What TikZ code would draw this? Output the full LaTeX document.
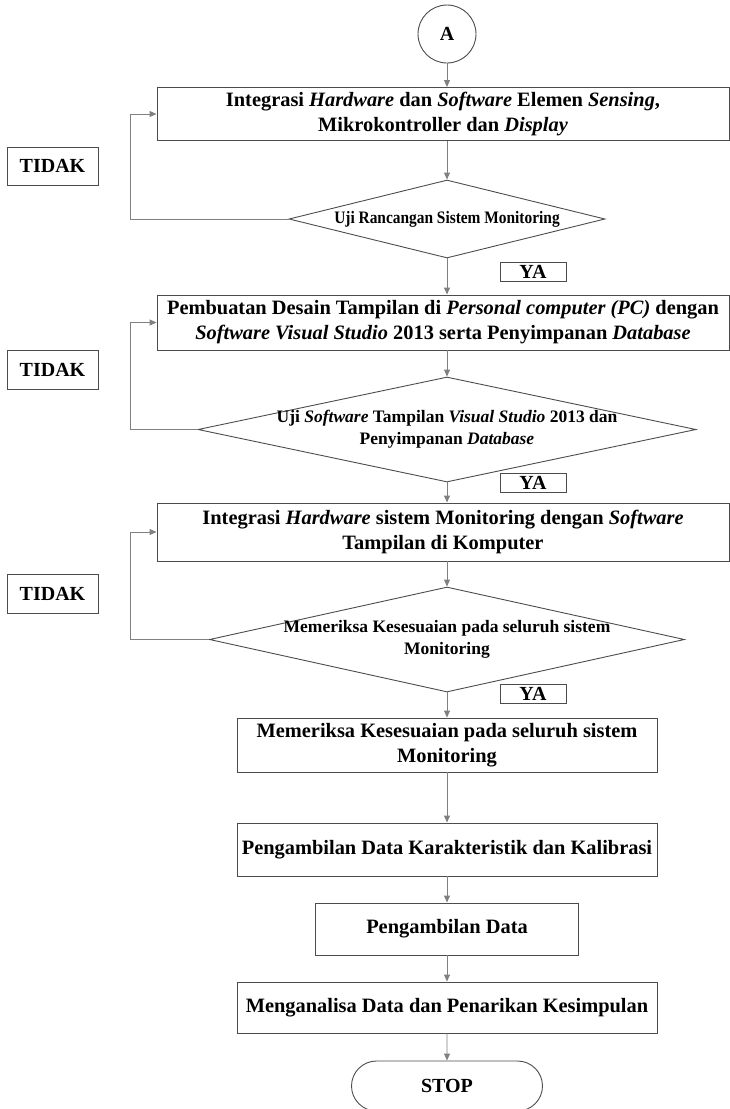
\documentclass[tikz,border=0pt]{standalone}
\usepackage{fontspec}
\setmainfont{Liberation Serif}
\usepackage{tikz}
\usetikzlibrary{shapes.geometric}
\usetikzlibrary{shapes.misc}
\usetikzlibrary{arrows.meta}
\newcommand \boxfont {\fontsize{20.4}{25}\selectfont\bfseries}
\newcommand \ujifont {\fontsize{17.5}{22}\selectfont\bfseries}
\newcommand \tagfont {\fontsize{20}{22}\selectfont\bfseries}
\tikzstyle{process}=[rectangle,draw=black!70,inner sep=0mm,align=center,font=\boxfont]
\tikzstyle{decision}=[diamond,draw=black!70,inner sep=0mm]
\tikzstyle{ujitext}=[inner sep=0mm,align=center,font=\ujifont]
\tikzstyle{tag}=[rectangle,draw=black!70,inner sep=0mm,font=\tagfont]
\tikzstyle{arrow}=[->,>={Triangle[length=7pt,width=6pt]},draw=black!50]
\tikzset{every picture/.style={
    line width=0.9pt
  }
}

\begin{document}
\begin{tikzpicture}[x=1pt,y=-1pt]
    \useasboundingbox (0,0) rectangle (730,1109);
    \node[circle,draw=black!70,minimum size=58pt,inner sep=0mm,font=\tagfont] at (447,34) (A) {A};
    \node[process,minimum width=572pt,minimum height=53pt] at (443,114) (integrasi1)
      {Integrasi \textit{Hardware} dan \textit{Software} Elemen \textit{Sensing},\\ Mikrokontroller dan \textit{Display}};
    \node[decision,minimum width=316pt,minimum height=78pt] at (447,219) (uji1) {};
    \node[ujitext] at (uji1) (uji1text) {\addfontfeature{FakeStretch=0.88}Uji Rancangan Sistem Monitoring};
    \node[tag,minimum width=91pt,minimum height=38pt] at (52.5,166) (tidak1) {TIDAK};
    \node[tag,minimum width=66pt,minimum height=19pt] at (533,272) (ya1) {YA};
    \draw[arrow] (A) -- (A |- integrasi1.north);
    \draw[arrow] (A |- integrasi1.south) -- (uji1);
    \draw[arrow] (uji1.west) -| ([xshift=-26pt]integrasi1.west) -- (integrasi1.west);

    \node[process,minimum width=572pt,minimum height=55pt] at (443,322.5) (desain)
      {Pembuatan Desain Tampilan di \textit{Personal computer (PC)} dengan\\ \textit{Software Visual Studio} 2013 serta Penyimpanan \textit{Database}};
    \node[decision,minimum width=498pt,minimum height=105pt] at (447,429.5) (uji2) {};
    \node[ujitext] at (uji2) (uji2text) {Uji \textit{Software} Tampilan \textit{Visual Studio} 2013 dan\\ Penyimpanan \textit{Database}};
    \node[tag,minimum width=91pt,minimum height=39pt] at (52.5,369.5) (tidak2) {TIDAK};
    \node[tag,minimum width=66pt,minimum height=19pt] at (533,482.5) (ya2) {YA};
    \draw[arrow] (uji1.south) -- (uji1.south |- desain.north);
    \draw[arrow] (uji1.south |- desain.south) -- (uji2);
    \draw[arrow] (uji2.west) -| ([xshift=-26pt]desain.west) -- (desain.west);

    \node[process,minimum width=572pt,minimum height=58pt] at (443,532) (integrasi2)
      {Integrasi \textit{Hardware} sistem Monitoring dengan \textit{Software}\\ Tampilan di Komputer};
    \node[decision,minimum width=475pt,minimum height=105pt] at (447,639.5) (periksa1) {};
    \node[ujitext] at (periksa1) (periksa1text) {Memeriksa Kesesuaian pada seluruh sistem\\ Monitoring};
    \node[tag,minimum width=91pt,minimum height=39pt] at (52.5,593.5) (tidak3) {TIDAK};
    \node[tag,minimum width=66pt,minimum height=19pt] at (533,693.5) (ya3) {YA};
    \draw[arrow] (uji2.south) -- (uji2.south |- integrasi2.north);
    \draw[arrow] (uji2.south |- integrasi2.south) -- (periksa1);
    \draw[arrow] (periksa1.west) -| ([xshift=-26pt]integrasi2.west) -- (integrasi2.west);

    \node[process,minimum width=420pt,minimum height=54pt] at (447,745) (periksa2)
      {Memeriksa Kesesuaian pada seluruh sistem\\ Monitoring};
    \node[process,minimum width=420pt,minimum height=53pt] at (447,849.5) (karakteristik)
      {Pengambilan Data Karakteristik dan Kalibrasi};
    \node[process,minimum width=263pt,minimum height=52pt] at (447,929) (ambil) {Pengambilan Data};
    \node[process,minimum width=420pt,minimum height=51pt] at (447,1007.5) (analisa)
      {Menganalisa Data dan Penarikan Kesimpulan};
    \node[rounded rectangle,draw=black!70,minimum width=191pt,minimum height=50pt,inner sep=0mm,font=\tagfont] at (447,1086) (stop) {STOP};
    \draw[arrow] (periksa1.south) -- (periksa2);
    \draw[arrow] (periksa2) -- (karakteristik);
    \draw[arrow] (karakteristik) -- (ambil);
    \draw[arrow] (ambil) -- (analisa);
    \draw[arrow] (analisa) -- (stop);
  \end{tikzpicture}
\end{document}
